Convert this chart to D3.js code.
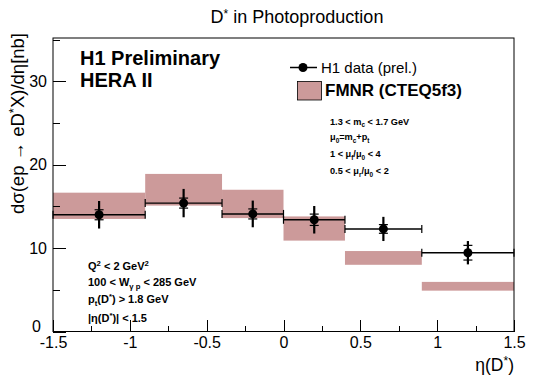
<!DOCTYPE html>
<html>
<head>
<meta charset="utf-8">
<script src="https://cdn.jsdelivr.net/npm/d3@7"></script>
<style>
  html, body { margin: 0; padding: 0; background: #fff; }
  svg { display: block; font-family: "Liberation Sans", Arial, Helvetica, sans-serif; }
</style>
</head>
<body>
<svg id="chart" width="536" height="384"></svg>
<script>
// ---- data ----
const binEdges = [-1.5, -0.9, -0.4, 0.0, 0.4, 0.9, 1.5];
const etaCenters = [-1.2, -0.65, -0.2, 0.2, 0.65, 1.2];
const dataValues = [14.0, 15.4, 14.1, 13.4, 12.3, 9.45];
const statErrors = [0.6, 0.6, 0.6, 0.68, 0.52, 0.88];
const totalErrors = [1.65, 1.7, 1.6, 1.65, 1.45, 1.4];
const theoryLow = [13.5, 15.1, 13.6, 10.9, 8.0, 4.9];
const theoryHigh = [16.65, 18.9, 17.0, 13.8, 9.65, 5.95];
const xTicks = [-1.5, -1, -0.5, 0, 0.5, 1, 1.5];
const xTickLabels = ["-1.5", "-1", "-0.5", "0", "0.5", "1", "1.5"];
const xMinorTicks = [-1.25, -0.75, -0.25, 0.25, 0.75, 1.25];
const yTicks = [0, 10, 20, 30];
const yMinorTicks = [5, 15, 25, 35];

const svg = d3.select("#chart");
const frame = {left: 53, right: 514, top: 38, bottom: 331.5};
const x = d3.scaleLinear().domain([-1.5, 1.5]).range([frame.left, frame.right]);
const y = d3.scaleLinear().domain([0, 35.2]).range([frame.bottom, frame.top]);
const bandColor = "#cc9a9a";

// ---- theory bands ----
svg.append("g").selectAll("rect").data(theoryLow).join("rect")
  .attr("x", (d, i) => x(binEdges[i]))
  .attr("width", (d, i) => x(binEdges[i + 1]) - x(binEdges[i]))
  .attr("y", (d, i) => y(theoryHigh[i]))
  .attr("height", (d, i) => y(d) - y(theoryHigh[i]))
  .attr("fill", bandColor);

// ---- frame ----
svg.append("rect")
  .attr("x", frame.left).attr("y", frame.top)
  .attr("width", frame.right - frame.left).attr("height", frame.bottom - frame.top)
  .attr("fill", "none").attr("stroke", "#000").attr("stroke-width", 1);

// ---- axes ----
const xAxis = svg.append("g").attr("transform", `translate(0,${frame.bottom})`);
xAxis.call(d3.axisBottom(x).tickValues(xTicks).tickSize(-12).tickPadding(5)
  .tickFormat((d, i) => xTickLabels[i]));
xAxis.append("g").call(d3.axisBottom(x).tickValues(xMinorTicks).tickSize(-6).tickFormat(""));
xAxis.selectAll(".domain").remove();
xAxis.selectAll("text").attr("font-size", 16).attr("fill", "#000").attr("font-family", "Liberation Sans, Arial, sans-serif");

const yAxis = svg.append("g").attr("transform", `translate(${frame.left},0)`);
yAxis.call(d3.axisLeft(y).tickValues(yTicks).tickSize(-13).tickPadding(6));
yAxis.append("g").call(d3.axisLeft(y).tickValues(yMinorTicks).tickSize(-6.5).tickFormat(""));
yAxis.selectAll(".domain").remove();
yAxis.selectAll("text").attr("font-size", 16).attr("fill", "#000").attr("font-family", "Liberation Sans, Arial, sans-serif");
// the zero label sits a little higher and further left, clear of the x labels
yAxis.selectAll(".tick text").filter(d => d === 0).attr("dx", -6).attr("dy", "-0.0em");
svg.selectAll(".tick line").attr("stroke", "#000").attr("shape-rendering", "crispEdges");

// axis titles
svg.append("text")
  .attr("transform", `translate(24,33) rotate(-90)`)
  .attr("text-anchor", "end").attr("font-size", 18.5)
  .call(t => {
    t.append("tspan").text("dσ(ep → eD");
    t.append("tspan").attr("dy", -6).attr("font-size", 13).text("*");
    t.append("tspan").attr("dy", 6).text("X)/dη[nb]");
  });
svg.append("text")
  .attr("x", frame.right).attr("y", 371).attr("text-anchor", "end").attr("font-size", 17.5)
  .call(t => {
    t.append("tspan").text("η(D");
    t.append("tspan").attr("dy", -6).attr("font-size", 12).text("*");
    t.append("tspan").attr("dy", 6).text(")");
  });

// title
svg.append("text").attr("x", 297).attr("y", 23).attr("text-anchor", "middle").attr("font-size", 18)
  .call(t => {
    t.append("tspan").text("D");
    t.append("tspan").attr("dy", -5).attr("font-size", 12).text("*");
    t.append("tspan").attr("dy", 5).text(" in Photoproduction");
  });

// ---- data points ----
const pts = svg.append("g");
etaCenters.forEach((c, i) => {
  const cy = y(dataValues[i]);
  const xl = x(binEdges[i]), xr = x(binEdges[i + 1]), cx = x(c);
  pts.append("line").attr("x1", xl).attr("x2", xr).attr("y1", cy).attr("y2", cy)
    .attr("stroke", "#000").attr("stroke-width", 1.4);
  [xl, xr].forEach(ex => pts.append("line").attr("x1", ex).attr("x2", ex)
    .attr("y1", cy - 4).attr("y2", cy + 4).attr("stroke", "#000").attr("stroke-width", 1.2));
  pts.append("line").attr("x1", cx).attr("x2", cx)
    .attr("y1", y(dataValues[i] + totalErrors[i])).attr("y2", y(dataValues[i] - totalErrors[i]))
    .attr("stroke", "#000").attr("stroke-width", 2.2);
  [statErrors[i], -statErrors[i]].forEach(e => pts.append("line")
    .attr("x1", cx - 4.5).attr("x2", cx + 4.5)
    .attr("y1", y(dataValues[i] + e)).attr("y2", y(dataValues[i] + e))
    .attr("stroke", "#000").attr("stroke-width", 1.2));
  pts.append("circle").attr("cx", cx).attr("cy", cy).attr("r", 4.5).attr("fill", "#000");
});

// ---- labels ----
svg.append("text").attr("x", 80).attr("y", 65).attr("font-size", 20).attr("font-weight", "bold")
  .text("H1 Preliminary");
svg.append("text").attr("x", 80).attr("y", 87).attr("font-size", 20).attr("font-weight", "bold")
  .text("HERA II");

// legend
svg.append("line").attr("x1", 290).attr("x2", 317).attr("y1", 67.5).attr("y2", 67.5)
  .attr("stroke", "#000").attr("stroke-width", 1.5);
svg.append("circle").attr("cx", 303).attr("cy", 67.5).attr("r", 4.5).attr("fill", "#000");
svg.append("text").attr("x", 321).attr("y", 73).attr("font-size", 15).text("H1 data (prel.)");
svg.append("rect").attr("x", 297.5).attr("y", 81.5).attr("width", 24).attr("height", 18.5)
  .attr("fill", bandColor).attr("stroke", "#000").attr("stroke-width", 0.8);
svg.append("text").attr("x", 325).attr("y", 96).attr("font-size", 17).attr("font-weight", "bold")
  .text("FMNR (CTEQ5f3)");

function richText(xp, yp, parts, size) {
  const t = svg.append("text").attr("x", xp).attr("y", yp).attr("font-size", size)
    .attr("font-weight", "bold");
  let shift = 0;
  parts.forEach(p => {
    const [s, kind] = p;
    const target = kind === "sup" ? -size * 0.4 : kind === "sub" ? size * 0.3 : 0;
    const ts = t.append("tspan").attr("dy", target - shift).text(s);
    if (kind) ts.attr("font-size", size * 0.7);
    shift = target;
  });
  return t;
}

const fsR = 9.2, fsL = 11;
richText(330, 124.5, [["1.3 < m"], ["c", "sub"], [" < 1.7 GeV"]], fsR);
richText(330, 140, [["μ"], ["0", "sub"], ["="], ["m"], ["c", "sub"], ["+p"], ["t", "sub"]], fsR);
richText(330, 157, [["1 < μ"], ["f", "sub"], ["/μ"], ["0", "sub"], [" < 4"]], fsR);
richText(330, 174, [["0.5 < μ"], ["r", "sub"], ["/μ"], ["0", "sub"], [" < 2"]], fsR);

richText(88, 270, [["Q"], ["2", "sup"], [" < 2 GeV"], ["2", "sup"]], fsL);
richText(88, 286, [["100 < W"], ["γ p", "sub"], [" < 285 GeV"]], fsL);
richText(88, 303, [["p"], ["t", "sub"], ["(D"], ["*", "sup"], [") > 1.8 GeV"]], fsL);
richText(88, 322, [["|η(D"], ["*", "sup"], [")| < 1.5"]], fsL);
</script>
</body>
</html>
